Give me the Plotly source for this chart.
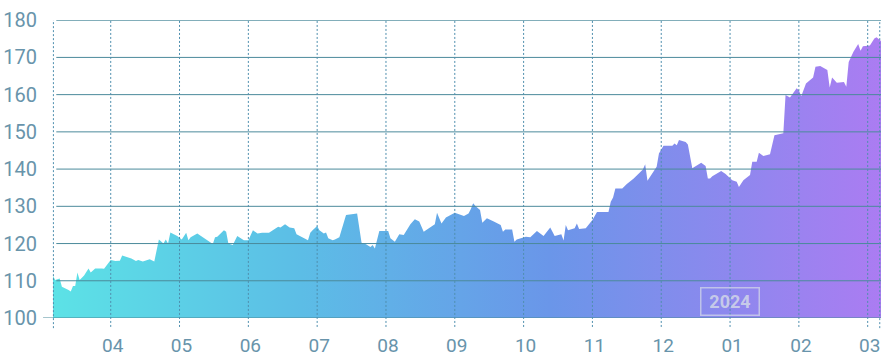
import calendar
import plotly.graph_objects as go

# ---------------- data ----------------
dates = [
    "2023-03-06", "2023-03-07", "2023-03-09", "2023-03-10", "2023-03-13", "2023-03-14",
    "2023-03-15", "2023-03-16", "2023-03-17", "2023-03-18", "2023-03-20", "2023-03-22",
    "2023-03-23", "2023-03-25", "2023-03-28", "2023-03-29",
    "2023-04-01", "2023-04-03", "2023-04-05", "2023-04-06", "2023-04-10", "2023-04-12",
    "2023-04-13", "2023-04-15", "2023-04-18", "2023-04-20", "2023-04-22", "2023-04-24",
    "2023-04-25", "2023-04-26", "2023-04-27", "2023-04-30",
    "2023-05-02", "2023-05-04", "2023-05-05", "2023-05-06", "2023-05-09", "2023-05-12",
    "2023-05-16", "2023-05-17", "2023-05-18", "2023-05-21", "2023-05-22", "2023-05-23",
    "2023-05-25", "2023-05-27", "2023-05-30",
    "2023-06-01", "2023-06-03", "2023-06-05", "2023-06-07", "2023-06-10", "2023-06-14",
    "2023-06-15", "2023-06-17", "2023-06-19", "2023-06-21", "2023-06-22", "2023-06-24",
    "2023-06-27", "2023-06-28", "2023-06-29",
    "2023-07-01", "2023-07-02", "2023-07-04", "2023-07-05", "2023-07-06", "2023-07-08",
    "2023-07-09", "2023-07-11", "2023-07-14", "2023-07-19", "2023-07-21", "2023-07-23",
    "2023-07-25", "2023-07-26", "2023-07-27", "2023-07-29",
    "2023-08-02", "2023-08-03", "2023-08-05", "2023-08-07", "2023-08-09", "2023-08-12",
    "2023-08-14", "2023-08-16", "2023-08-18", "2023-08-21", "2023-08-23", "2023-08-24",
    "2023-08-26", "2023-08-28",
    "2023-09-01", "2023-09-05", "2023-09-07", "2023-09-08", "2023-09-09", "2023-09-10",
    "2023-09-12", "2023-09-13", "2023-09-15", "2023-09-18", "2023-09-21", "2023-09-22",
    "2023-09-23", "2023-09-26", "2023-09-27", "2023-09-28", "2023-09-30",
    "2023-10-02", "2023-10-04", "2023-10-07", "2023-10-10", "2023-10-12", "2023-10-13",
    "2023-10-15", "2023-10-18", "2023-10-19", "2023-10-20", "2023-10-21", "2023-10-24",
    "2023-10-25", "2023-10-26", "2023-10-29",
    "2023-11-01", "2023-11-03", "2023-11-08", "2023-11-09", "2023-11-10", "2023-11-11",
    "2023-11-14", "2023-11-16", "2023-11-19", "2023-11-23", "2023-11-24", "2023-11-25",
    "2023-11-29", "2023-11-30",
    "2023-12-02", "2023-12-06", "2023-12-07", "2023-12-08", "2023-12-09", "2023-12-12",
    "2023-12-13", "2023-12-15", "2023-12-19", "2023-12-21", "2023-12-22", "2023-12-23",
    "2023-12-24", "2023-12-28", "2023-12-30",
    "2024-01-02", "2024-01-04", "2024-01-05", "2024-01-07", "2024-01-10", "2024-01-11",
    "2024-01-13", "2024-01-14", "2024-01-16", "2024-01-19", "2024-01-21", "2024-01-25",
    "2024-01-26", "2024-01-28", "2024-01-31",
    "2024-02-01", "2024-02-02", "2024-02-04", "2024-02-07", "2024-02-08", "2024-02-10",
    "2024-02-13", "2024-02-14", "2024-02-15", "2024-02-17", "2024-02-20", "2024-02-21",
    "2024-02-22", "2024-02-24", "2024-02-26", "2024-02-27", "2024-02-28",
    "2024-03-02", "2024-03-04", "2024-03-05", "2024-03-07",
]
values = [
    111.3, 110.2, 110.6, 108.4, 107.5, 107.1,
    108.6, 108.6, 112.2, 110.2, 111.4, 113.3,
    112.2, 113.3, 113.3, 113.2,
    115.6, 115.3, 115.4, 116.8, 116.0, 115.3,
    115.6, 115.2, 115.8, 115.2, 121.1, 120.0,
    121.1, 120.0, 123.0, 122.0,
    121.1, 122.9, 120.9, 121.7, 122.7, 121.4,
    119.9, 121.7, 121.8, 123.6, 123.2, 120.0,
    119.6, 122.0, 120.9,
    120.9, 123.6, 122.7, 122.9, 122.9, 124.5,
    124.3, 125.2, 124.3, 124.1, 122.5, 121.8,
    120.9, 122.9, 123.6,
    124.7, 123.6, 122.7, 123.0, 121.4, 120.9,
    121.1, 121.7, 127.7, 128.1, 120.2, 119.8,
    119.1, 119.6, 118.7, 123.4,
    123.4, 121.4, 120.5, 122.5, 122.3, 125.2,
    126.5, 125.9, 123.2, 124.5, 125.2, 128.3,
    125.4, 127.0,
    128.3, 127.4, 128.1, 129.3, 130.8, 130.1,
    129.0, 125.6, 126.8, 125.9, 125.0, 123.2,
    123.8, 123.8, 120.5, 121.1, 121.4,
    121.8, 121.7, 123.4, 122.0, 123.6, 124.3,
    122.0, 122.5, 120.8, 125.0, 123.6, 124.1,
    125.4, 123.9, 124.1,
    126.3, 128.5, 128.5, 131.2, 132.4, 134.8,
    134.8, 136.0, 137.5, 139.9, 141.3, 136.9,
    140.6, 144.2,
    146.3, 146.3, 146.9, 146.4, 147.8, 147.3,
    146.6, 140.2, 141.7, 140.8, 137.5, 137.5,
    138.1, 139.5, 138.7,
    137.0, 136.6, 135.2, 137.0, 138.4, 142.0,
    142.0, 144.4, 143.5, 144.0, 149.1, 149.6,
    159.9, 159.2, 161.7,
    161.2, 159.6, 163.0, 164.6, 167.5, 167.7,
    166.6, 161.9, 164.6, 163.2, 163.4, 162.1,
    168.8, 171.5, 173.6, 171.8, 173.0,
    173.2, 175.1, 175.4, 174.4,
]

month_labels = ["04", "05", "06", "07", "08", "09", "10", "11", "12", "01", "02", "03"]
y_ticks = [100, 110, 120, 130, 140, 150, 160, 170, 180]
year_label = "2024"

# ---------------- helpers ----------------
def month_pos(d):
    """Position on an evenly spaced month scale: 0 = 1 April 2023."""
    y, m, day = (int(p) for p in d.split("-"))
    ndays = calendar.monthrange(y, m)[1]
    return (y - 2023) * 12 + (m - 4) + (day - 1) / ndays

xs = [month_pos(d) for d in dates]
tick_pos = list(range(len(month_labels)))
x_min, x_max = xs[0], xs[-1]

FONT = "Roboto, sans-serif"
LABEL_COLOR = "#6894ab"
GRID_H = "#4b8a9b"
GRID_V = "#4f8fae"

fig = go.Figure()
fig.add_trace(go.Scatter(
    x=xs, y=values, mode="lines", line=dict(width=0),
    fill="tozeroy",
    fillgradient=dict(
        type="horizontal",
        colorscale=[[0, "#5ce2e6"], [0.3, "#5cbde6"], [0.6, "#6a96e9"], [1, "#ab7cf2"]],
        start=x_min, stop=x_max,
    ),
    hoverinfo="skip", showlegend=False,
))

shapes = []
# horizontal grid lines (drawn above the area)
for v in y_ticks:
    shapes.append(dict(
        type="line", xref="paper", yref="y",
        x0=(-0.012 if v == y_ticks[0] else 0.004), x1=1, y0=v, y1=v,
        line=dict(color=GRID_H, width=1), layer="above",
    ))
# vertical dotted month lines
for p in tick_pos:
    shapes.append(dict(
        type="line", xref="x", yref="paper", x0=p, x1=p, y0=-0.03, y1=1,
        line=dict(color=GRID_V, width=1, dash="2px,2px"), layer="above",
    ))
# dotted edges
for px_ in (0.0005, 0.9985):
    shapes.append(dict(
        type="line", xref="paper", yref="paper", x0=px_, x1=px_, y0=-0.034, y1=1,
        line=dict(color=GRID_V, width=1, dash="2px,2px"), layer="above",
    ))

fig.update_layout(
    width=881, height=358,
    margin=dict(l=53, r=0, t=20, b=40),
    paper_bgcolor="white", plot_bgcolor="white",
    shapes=shapes,
    font=dict(family=FONT, size=20, color=LABEL_COLOR),
    xaxis=dict(
        range=[x_min, x_max], tickmode="array", tickvals=tick_pos, ticktext=month_labels,
        showgrid=False, zeroline=False, showline=False, ticks="",
        tickfont=dict(size=19),
        ticklabelstandoff=14, ticklabelshift=2, fixedrange=True, automargin=False,
    ),
    yaxis=dict(
        range=[100, 180.05], tickmode="array", tickvals=y_ticks,
        showgrid=False, zeroline=False, showline=False, ticks="",
        ticklabelstandoff=15, fixedrange=True, automargin=False,
    ),
    annotations=[dict(
        x=tick_pos[month_labels.index("01")], y=104.3, xref="x", yref="y",
        text="<b>" + year_label + "</b>", showarrow=False,
        font=dict(family="Roboto, sans-serif", size=18, color="rgba(214,220,232,0.8)"),
        bordercolor="rgba(214,220,232,0.7)", borderwidth=1.5, borderpad=3,
        width=51, height=20,
    )],
)

fig.write_html("out.html")
